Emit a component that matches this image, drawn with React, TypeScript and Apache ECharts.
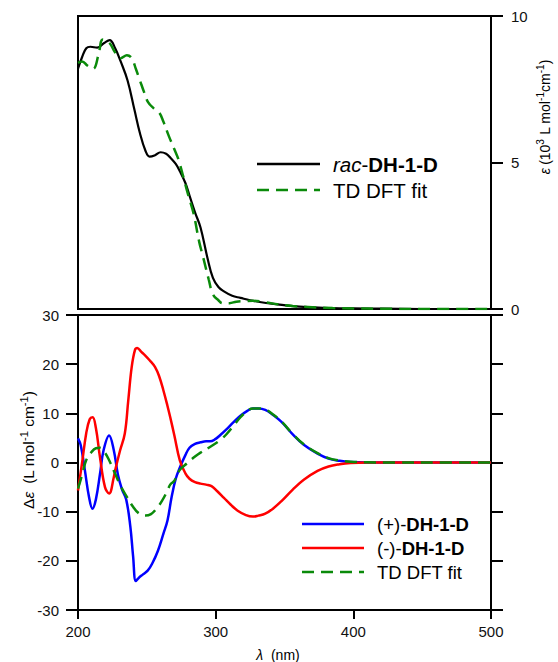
import React, { useEffect, useRef } from "react";
import * as echarts from "echarts";

// ---- Top panel: UV absorption (epsilon, 10^3 L mol^-1 cm^-1) ----
const racX = [200, 203, 206, 209, 214, 219, 223, 227, 231, 236, 241, 245, 249, 252, 256, 260, 264, 267, 271, 274, 278, 281, 285, 289, 294, 298, 302, 306, 312, 318, 325, 332, 345, 356, 370, 385, 400, 420, 450, 500];
const racY = [8.2, 8.6, 8.9, 8.95, 8.92, 9.08, 9.18, 8.9, 8.45, 7.8, 6.8, 6.0, 5.4, 5.2, 5.25, 5.35, 5.3, 5.17, 4.95, 4.7, 4.3, 3.87, 3.3, 2.78, 1.75, 1.06, 0.75, 0.6, 0.45, 0.38, 0.3, 0.24, 0.16, 0.1, 0.06, 0.03, 0.02, 0.01, 0, 0];

const uvDftX = [200, 203, 207, 211, 215, 218, 223, 227, 231, 235.5, 239, 242, 245, 248, 251, 255, 259, 262, 266, 270, 273, 276, 280, 284, 288, 291, 295, 298, 302, 305, 310, 315, 320, 327, 335, 345, 356, 370, 385, 400, 420, 450, 500];
const uvDftY = [8.4, 8.45, 8.3, 8.2, 8.7, 9.2, 9.07, 8.75, 8.56, 8.66, 8.56, 8.2, 7.8, 7.4, 7.05, 6.85, 6.7, 6.4, 5.9, 5.45, 5.1, 4.6, 3.9, 3.25, 2.3, 1.75, 1.0, 0.5, 0.3, 0.2, 0.2, 0.25, 0.27, 0.28, 0.24, 0.16, 0.1, 0.06, 0.03, 0.02, 0.01, 0, 0];

// ---- Bottom panel: CD (delta epsilon, L mol^-1 cm^-1) ----
const plusX = [200, 202, 205, 208, 210.5, 213, 216, 218.5, 222.6, 226, 229, 232, 235, 238, 240, 242, 244, 247, 250.6, 254, 258, 262, 265, 268, 271, 274, 278, 281, 285, 289, 293, 296, 300, 303, 308, 313, 318, 323, 327, 331, 336, 342, 348, 356, 364, 374, 382, 390, 398, 410, 430, 460, 500];
const plusY = [4.9, 3.5, -1.6, -7, -9.4, -7.5, -2.3, 2.4, 5.5, 2.5, -2.5, -5.5, -7.5, -13, -19, -24.1, -23.5, -22.8, -22, -20.5, -18, -14.5, -11.8, -7, -3.3, -1, 1.5, 3, 3.8, 4.1, 4.3, 4.3, 4.8, 5.5, 6.8, 8.2, 9.5, 10.5, 11, 11, 10.7, 9.6, 8.2, 5.7, 3.6, 1.8, 0.8, 0.35, 0.1, 0, 0, 0, 0];

const minusX = [200, 203, 206, 208.5, 210.6, 213, 216, 219.6, 222.6, 226, 227, 230.5, 234, 236.5, 239, 241.4, 243, 246, 248.7, 252, 256, 259, 262, 265, 267, 270, 274, 278, 281, 285, 289, 293, 297, 301, 306, 311, 316, 322, 327, 331, 336, 342, 348, 356, 364, 374, 382, 390, 398, 410, 430, 460, 500];
const minusY = [-5.7, 0, 6, 8.8, 9.2, 7, 1, -5, -6.3, -3, -1.6, 2.4, 5.9, 12.6, 19.4, 22.9, 23.3, 22.5, 21.8, 20.8, 19.4, 17.5, 14.7, 11.5, 9.2, 5.5, 0.4, -2.2, -3.3, -4, -4.3, -4.5, -4.8, -5.8, -7.2, -8.6, -9.8, -10.7, -11, -10.8, -10.4, -9.3, -7.8, -5.5, -3.5, -1.7, -0.8, -0.35, -0.1, 0, 0, 0, 0];

const cdDftX = [200, 203, 206, 210, 213, 216, 219, 222, 227, 231, 235.5, 240, 244, 249, 253, 257, 261, 265, 267, 270, 274, 279, 285, 289, 295, 303, 308, 313, 318, 323, 327, 331, 336, 342, 348, 356, 364, 374, 382, 390, 398, 410, 430, 460, 500];
const cdDftY = [-5.3, -2.5, 0.5, 2.2, 2.9, 3, 2.2, 0.8, -2.3, -4.8, -7, -9, -10.3, -10.8, -10.5, -9.4, -7.8, -5.7, -4.5, -3.7, -1.5, -0.2, 1.2, 2, 3, 4.5, 5.8, 7.5, 9.2, 10.5, 11, 11, 10.8, 9.7, 8.3, 5.8, 3.7, 1.9, 0.9, 0.4, 0.15, 0.05, 0, 0, 0];

// ---- Axis ticks ----
const xMin = 200, xMax = 500, xStep = 100;
const uvMin = 0, uvMax = 10, uvStep = 5;
const cdMin = -30, cdMax = 30, cdStep = 10;

// ---- Legend entries ----
const topLegend = ["{i|rac}{n|-}{b|DH-1-D}", "{n|TD DFT fit}"];
const bottomLegend = ["{n|(+)-}{b|DH-1-D}", "{n|(-)-}{b|DH-1-D}", "{n|TD DFT fit}"];

const zip = (xs: number[], ys: number[]) => xs.map((x, i) => [x, ys[i]]);

const FONT = "'Liberation Sans', Arial, sans-serif";
const GREEN = "#0a8a0a";
const BLUE = "#0000ff";
const RED = "#ff0000";
const DASH = [12, 7];

export default function App() {
  const ref = useRef<HTMLDivElement>(null);
  useEffect(() => {
    if (!ref.current) return;
    const chart = echarts.init(ref.current, undefined, { renderer: "svg" });
    const legendRich = (size: number) => ({
      n: { fontFamily: FONT, fontSize: size, color: "#111" },
      i: { fontFamily: FONT, fontSize: size, color: "#111", fontStyle: "italic" },
      b: { fontFamily: FONT, fontSize: size, color: "#111", fontWeight: "bold" },
    });
    const axisLine = { show: true, onZero: false, lineStyle: { color: "#000", width: 2 } };
    const tickStyle = { color: "#000", width: 2 };
    const labelStyle = { fontFamily: FONT, fontSize: 15, color: "#111" };
    const titleRich = (size: number) => ({
      n: { fontFamily: FONT, fontSize: size, color: "#222", lineHeight: 20 },
      i: { fontFamily: FONT, fontSize: size, color: "#222", fontStyle: "italic", lineHeight: 20 },
      s: { fontFamily: FONT, fontSize: size * 0.72, color: "#222", verticalAlign: "top" },
    });
    const legendItem = (x0: number, x1: number, y: number, color: string, dashed: boolean, label: string, size: number) => [
      { type: "line", shape: { x1: x0, y1: y, x2: x1, y2: y }, style: { stroke: color, lineWidth: 2.5, lineDash: dashed ? DASH : null } },
      { type: "text", x: x1 + 13, y, style: { text: label, rich: legendRich(size), verticalAlign: "middle", align: "left" } },
    ];
    chart.setOption({
      animation: false,
      backgroundColor: "#fff",
      grid: [
        { left: 78, top: 16, width: 413, height: 293, show: true, borderColor: "#000", borderWidth: 2 },
        { left: 78, top: 315, width: 413, height: 295, show: true, borderColor: "#000", borderWidth: 2 },
      ],
      xAxis: [
        { type: "value", gridIndex: 0, min: xMin, max: xMax, interval: xStep, axisLine, axisTick: { show: false }, axisLabel: { show: false }, splitLine: { show: false } },
        { type: "value", gridIndex: 1, min: xMin, max: xMax, interval: xStep, axisLine, axisTick: { show: true, length: 9, lineStyle: tickStyle }, axisLabel: { ...labelStyle, margin: 14 }, splitLine: { show: false } },
      ],
      yAxis: [
        { type: "value", gridIndex: 0, position: "right", min: uvMin, max: uvMax, interval: uvStep, axisLine, axisTick: { show: true, length: 12, lineStyle: tickStyle }, axisLabel: { ...labelStyle, margin: 20 }, splitLine: { show: false } },
        { type: "value", gridIndex: 1, position: "left", min: cdMin, max: cdMax, interval: cdStep, axisLine, axisTick: { show: true, length: 12, lineStyle: tickStyle }, axisLabel: { ...labelStyle, margin: 19 }, splitLine: { show: false } },
        { type: "value", gridIndex: 1, position: "right", min: cdMin, max: cdMax, interval: cdStep, axisLine, axisTick: { show: true, length: 12, lineStyle: tickStyle }, axisLabel: { show: false }, splitLine: { show: false } },
      ],
      series: [
        { name: "rac-DH-1-D", type: "line", xAxisIndex: 0, yAxisIndex: 0, data: zip(racX, racY), smooth: 0.4, symbol: "none", lineStyle: { color: "#000", width: 2.2 } },
        { name: "TD DFT fit", type: "line", xAxisIndex: 0, yAxisIndex: 0, data: zip(uvDftX, uvDftY), smooth: 0.4, symbol: "none", lineStyle: { color: GREEN, width: 2.5, type: DASH } },
        { name: "(+)-DH-1-D", type: "line", xAxisIndex: 1, yAxisIndex: 1, data: zip(plusX, plusY), smooth: 0.4, symbol: "none", lineStyle: { color: BLUE, width: 2.5 } },
        { name: "(-)-DH-1-D", type: "line", xAxisIndex: 1, yAxisIndex: 1, data: zip(minusX, minusY), smooth: 0.4, symbol: "none", lineStyle: { color: RED, width: 2.5 } },
        { name: "TD DFT fit (CD)", type: "line", xAxisIndex: 1, yAxisIndex: 1, data: zip(cdDftX, cdDftY), smooth: 0.4, symbol: "none", lineStyle: { color: GREEN, width: 2.5, type: DASH } },
      ],
      graphic: [
        ...legendItem(257, 320, 164, "#000", false, topLegend[0], 20.5),
        ...legendItem(257, 320, 190, GREEN, true, topLegend[1], 20.5),
        ...legendItem(302, 364, 524, BLUE, false, bottomLegend[0], 18.5),
        ...legendItem(302, 364, 548, RED, false, bottomLegend[1], 18.5),
        ...legendItem(302, 364, 572, GREEN, true, bottomLegend[2], 18.5),
        {
          type: "text", x: 545, y: 117, rotation: Math.PI / 2,
          style: { text: "{i|ε} {n|(10}{s|3}{n| L mol}{s|-1}{n|cm}{s|-1}{n|)}", rich: titleRich(14), align: "center", verticalAlign: "middle" },
        },
        {
          type: "text", x: 28, y: 450, rotation: Math.PI / 2,
          style: { text: "{n|Δ}{i|ε} {n| (L mol}{s|-1}{n| cm}{s|-1}{n|)}", rich: titleRich(15.5), align: "center", verticalAlign: "middle" },
        },
        {
          type: "text", x: 278, y: 655,
          style: { text: "{i|λ}{n|  (nm)}", rich: titleRich(14), align: "center", verticalAlign: "middle" },
        },
      ],
    });
    return () => chart.dispose();
  }, []);
  return <div ref={ref} style={{ position: "fixed", left: 0, top: 0, width: 558, height: 662 }} />;
}
